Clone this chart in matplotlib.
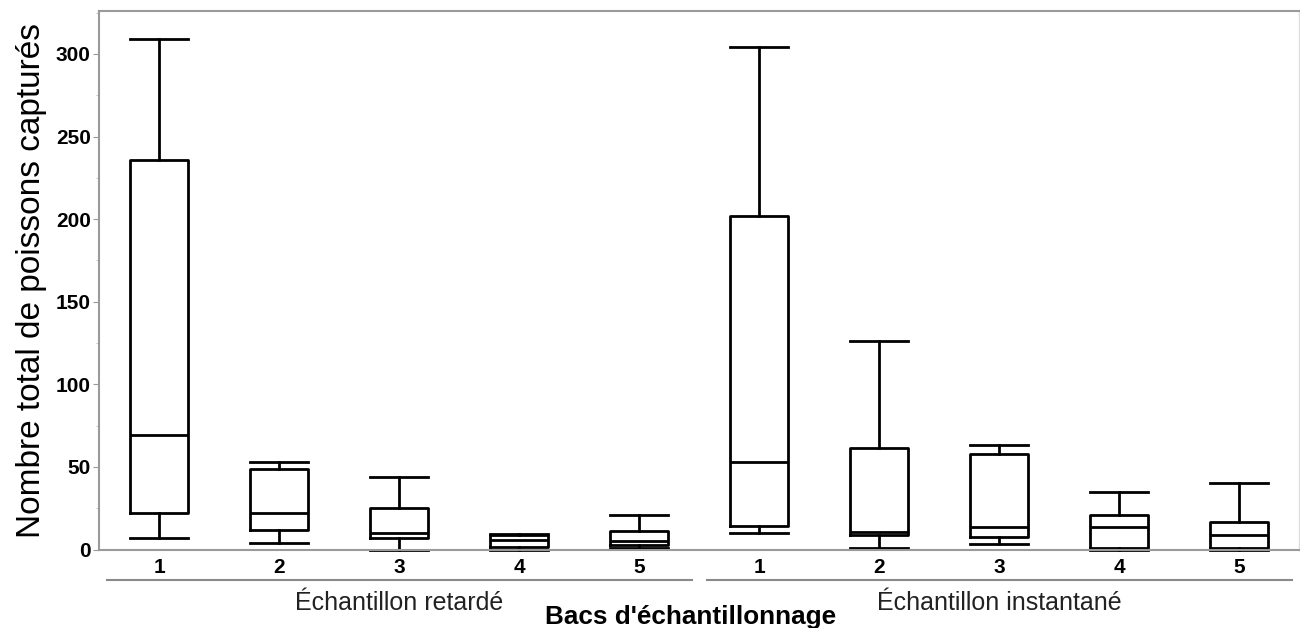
import matplotlib.pyplot as plt
from matplotlib.ticker import MultipleLocator
import matplotlib.transforms as mtransforms

plt.rcParams["font.family"] = ["Liberation Sans", "DejaVu Sans"]

# whisker low, Q1, median, Q3, whisker high
groups = ["Échantillon retardé", "Échantillon instantané"]
bacs = ["1", "2", "3", "4", "5"]
whislo = [[7, 4, 0, 0, 1], [10, 1, 3.5, 0, 0]]
q1 = [[22, 12, 7, 1.5, 2.5], [14.5, 9, 7.5, 1, 1]]
med = [[69.5, 22, 10, 6, 5], [53, 10.5, 13.5, 13.5, 8.5]]
q3 = [[236, 49, 25, 9, 11], [202, 61.5, 58, 21, 16.5]]
whishi = [[309, 53, 44, 9.5, 21], [304, 126, 63.5, 35, 40]]

positions = [[1, 2, 3, 4, 5], [6, 7, 8, 9, 10]]

fig = plt.figure(figsize=(13, 6.28), dpi=100)
ax = fig.add_axes([0.0762, 0.125, 0.923, 0.8575])

lw = 2.0
for g in range(2):
    stats = []
    for i in range(5):
        stats.append({
            "whislo": whislo[g][i], "q1": q1[g][i], "med": med[g][i],
            "q3": q3[g][i], "whishi": whishi[g][i], "fliers": [],
        })
    art = ax.bxp(stats, positions=positions[g], widths=0.48, capwidths=0.48,
                 showfliers=False, manage_ticks=False,
                 boxprops=dict(color="black", linewidth=lw),
                 medianprops=dict(color="black", linewidth=lw),
                 whiskerprops=dict(color="black", linewidth=lw),
                 capprops=dict(color="black", linewidth=lw))
    for lines in art.values():
        for line in lines:
            line.set_clip_on(False)

ax.set_xlim(0.5, 10.5)
ax.set_ylim(0, 326)
ax.yaxis.set_major_locator(MultipleLocator(50))
ax.yaxis.set_minor_locator(MultipleLocator(25))
ax.set_xticks(positions[0] + positions[1], bacs + bacs)
ax.tick_params(axis="x", length=0, pad=6, labelsize=15)
ax.tick_params(axis="y", which="major", length=4, color="#999999", labelsize=15, pad=2)
ax.tick_params(axis="y", which="minor", length=2, color="#bbbbbb")
for lab in ax.get_xticklabels() + ax.get_yticklabels():
    lab.set_fontweight("bold")

for side in ["left", "bottom", "top"]:
    ax.spines[side].set_color("#9a9a9a")
    ax.spines[side].set_linewidth(1.5)
ax.spines["right"].set_color("#dddddd")
ax.spines["right"].set_linewidth(1.0)

ax.set_ylabel("Nombre total de poissons capturés", fontsize=24, labelpad=6)

# group brackets below the tick labels
trans = mtransforms.blended_transform_factory(ax.transData, ax.transAxes)
for g in range(2):
    x0 = positions[g][0] - 0.5
    x1 = positions[g][-1] + 0.5
    ax.plot([x0 + 0.07, x1 - 0.06], [-0.057, -0.057], transform=trans,
            color="#8a8a8a", linewidth=1.5, clip_on=False)
    xc = sum(positions[g]) / len(positions[g])
    ax.text(xc, -0.099, groups[g], transform=trans, ha="center", va="center",
            fontsize=18, color="#222222")

fig.text(0.5315, 0.006, "Bacs d'échantillonnage", ha="center", va="baseline",
         fontsize=18.8, fontweight="bold")

fig.savefig("out.png", dpi=100, facecolor="white")
